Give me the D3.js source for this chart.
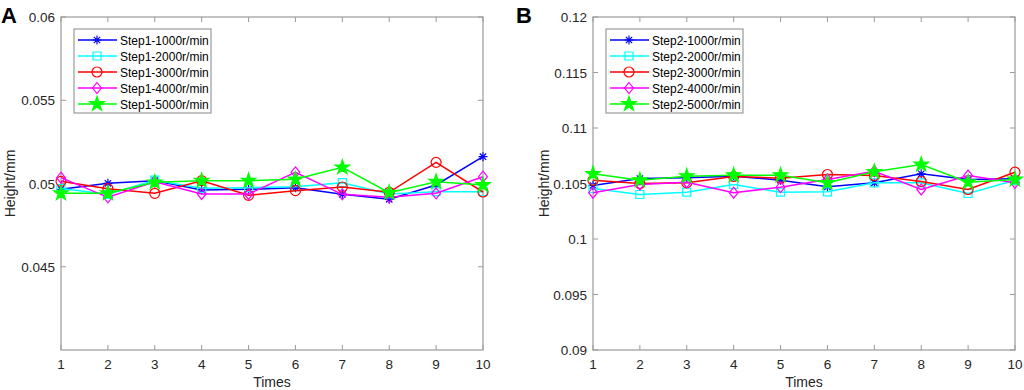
<!DOCTYPE html>
<html>
<head>
<meta charset="utf-8">
<script src="https://cdn.jsdelivr.net/npm/d3@7"></script>
<style>
  body { margin: 0; background: #fff; }
  text { font-family: "Liberation Sans", Arial, sans-serif; }
</style>
</head>
<body>
<div id="chart"></div>
<script>
// data
const times = [1, 2, 3, 4, 5, 6, 7, 8, 9, 10];
const speeds = ["1000r/min", "2000r/min", "3000r/min", "4000r/min", "5000r/min"];

const step1_1000 = [0.04965, 0.05001, 0.05017, 0.04961, 0.04965, 0.04975, 0.04935, 0.04905, 0.04991, 0.05161];
const step1_2000 = [0.04970, 0.04935, 0.05020, 0.04971, 0.04975, 0.04981, 0.05005, 0.04937, 0.04951, 0.04951];
const step1_3000 = [0.05013, 0.04969, 0.04941, 0.05017, 0.04929, 0.04957, 0.04979, 0.04947, 0.05127, 0.04949];
const step1_4000 = [0.05035, 0.04917, 0.05011, 0.04937, 0.04937, 0.05067, 0.04935, 0.04917, 0.04941, 0.05041];
const step1_5000 = [0.04941, 0.04941, 0.05007, 0.05017, 0.05017, 0.05025, 0.05097, 0.04945, 0.05011, 0.04991];

const step2_1000 = [0.10482, 0.10545, 0.10551, 0.10566, 0.10530, 0.10470, 0.10506, 0.10587, 0.10536, 0.10542];
const step2_2000 = [0.10455, 0.10401, 0.10422, 0.10491, 0.10422, 0.10425, 0.10506, 0.10506, 0.10410, 0.10530];
const step2_3000 = [0.10530, 0.10500, 0.10506, 0.10563, 0.10548, 0.10581, 0.10572, 0.10518, 0.10446, 0.10602];
const step2_4000 = [0.10417, 0.10491, 0.10512, 0.10417, 0.10467, 0.10536, 0.10611, 0.10446, 0.10572, 0.10506];
const step2_5000 = [0.10587, 0.10530, 0.10566, 0.10575, 0.10575, 0.10506, 0.10605, 0.10671, 0.10512, 0.10536];

const yTicksA = [0.045, 0.05, 0.055, 0.06];
const yTicksB = [0.09, 0.095, 0.1, 0.105, 0.11, 0.115, 0.12];

const colors = ["#0000ff", "#00ffff", "#ff0000", "#ff00ff", "#00ff00"];

// marker shapes (MATLAB-like)
const asterisk = { draw(ctx, size) {
  const r = Math.sqrt(size) / 2;
  const d = r * Math.SQRT1_2;
  ctx.moveTo(-r, 0); ctx.lineTo(r, 0);
  ctx.moveTo(0, -r); ctx.lineTo(0, r);
  ctx.moveTo(-d, -d); ctx.lineTo(d, d);
  ctx.moveTo(-d, d); ctx.lineTo(d, -d);
}};
const square = { draw(ctx, size) {
  const r = Math.sqrt(size) / 2;
  ctx.rect(-r, -r, 2 * r, 2 * r);
}};
const circle = { draw(ctx, size) {
  const r = Math.sqrt(size) / 2;
  ctx.moveTo(r, 0);
  ctx.arc(0, 0, r, 0, 2 * Math.PI);
}};
const diamond = { draw(ctx, size) {
  const r = Math.sqrt(size) / 2;
  const w = r * 0.8;
  ctx.moveTo(0, -r); ctx.lineTo(w, 0); ctx.lineTo(0, r); ctx.lineTo(-w, 0); ctx.closePath();
}};
const markers = [
  { type: asterisk, size: 81, fill: "none" },
  { type: square, size: 64, fill: "none" },
  { type: circle, size: 100, fill: "none" },
  { type: diamond, size: 121, fill: "none" },
  { type: d3.symbolStar, size: 65, fill: "currentColor" }
];

const width = 1024, height = 390;
const plotTop = 17, plotBottom = 350;

const svg = d3.select("#chart").append("svg")
  .attr("width", width)
  .attr("height", height);

function panel(opts) {
  const { left, right, domain, ticks, series, prefix, letter, letterX, labelX } = opts;
  const g = svg.append("g");

  const x = d3.scaleLinear().domain([1, 10]).range([left, right]);
  const y = d3.scaleLinear().domain(domain).range([plotBottom, plotTop]);

  // box
  g.append("rect")
    .attr("x", left).attr("y", plotTop)
    .attr("width", right - left).attr("height", plotBottom - plotTop)
    .attr("fill", "none").attr("stroke", "#9a9a9a").attr("stroke-width", 1.2);

  // x ticks (inward, bottom and top)
  g.selectAll(".xt").data(times).enter().append("path")
    .attr("d", d => `M${x(d)},${plotBottom}v-5M${x(d)},${plotTop}v5`)
    .attr("stroke", "#9a9a9a");
  g.selectAll(".xl").data(times).enter().append("text")
    .attr("x", d => x(d)).attr("y", plotBottom + 19)
    .attr("text-anchor", "middle").attr("font-size", 13.5).attr("fill", "#262626")
    .text(d => d);

  // y ticks (inward, left and right)
  g.selectAll(".yt").data(ticks).enter().append("path")
    .attr("d", d => `M${left},${y(d)}h5M${right},${y(d)}h-5`)
    .attr("stroke", "#9a9a9a");
  g.selectAll(".yl").data(ticks).enter().append("text")
    .attr("x", left - 6).attr("y", d => y(d) + 5)
    .attr("text-anchor", "end").attr("font-size", 13.5).attr("fill", "#262626")
    .text(d => String(+d.toFixed(3)));

  g.append("text")
    .attr("x", (left + right) / 2).attr("y", 387)
    .attr("text-anchor", "middle").attr("font-size", 14).attr("fill", "#262626")
    .text("Times");
  g.append("text")
    .attr("transform", `translate(${labelX},${(plotTop + plotBottom) / 2}) rotate(-90)`)
    .attr("text-anchor", "middle").attr("font-size", 14).attr("fill", "#262626")
    .text("Height/mm");

  g.append("text")
    .attr("x", letterX).attr("y", 23)
    .attr("font-size", 22).attr("font-weight", "bold").attr("fill", "#000")
    .text(letter);

  const line = d3.line().x((d, i) => x(times[i])).y(d => y(d));

  series.forEach((vals, k) => {
    const s = g.append("g").style("color", colors[k]);
    s.append("path")
      .attr("d", line(vals))
      .attr("fill", "none").attr("stroke", colors[k]).attr("stroke-width", 1.5);
    s.selectAll("path.m").data(vals).enter().append("path")
      .attr("class", "m")
      .attr("transform", (d, i) => `translate(${x(times[i])},${y(d)})`)
      .attr("d", d3.symbol().type(markers[k].type).size(markers[k].size))
      .attr("fill", markers[k].fill).attr("stroke", colors[k]).attr("stroke-width", 1.2);
  });

  // legend
  const lx = left + 13, ly = 29;
  const lg = g.append("g");
  lg.append("rect")
    .attr("x", lx).attr("y", ly).attr("width", 137).attr("height", 84)
    .attr("fill", "#fff").attr("stroke", "#9a9a9a").attr("stroke-width", 1.2);
  speeds.forEach((sp, k) => {
    const yy = ly + 11 + k * 16;
    const it = lg.append("g").style("color", colors[k]);
    it.append("line")
      .attr("x1", lx + 4).attr("x2", lx + 43).attr("y1", yy).attr("y2", yy)
      .attr("stroke", colors[k]).attr("stroke-width", 1.5);
    it.append("path")
      .attr("transform", `translate(${lx + 23},${yy})`)
      .attr("d", d3.symbol().type(markers[k].type).size(markers[k].size))
      .attr("fill", markers[k].fill).attr("stroke", colors[k]).attr("stroke-width", 1.2);
    it.append("text")
      .attr("x", lx + 46).attr("y", yy + 4.5)
      .attr("font-size", 12).attr("fill", "#000")
      .text(prefix + "-" + sp);
  });
}

panel({
  left: 61, right: 483, domain: [0.04, 0.06], ticks: yTicksA,
  series: [step1_1000, step1_2000, step1_3000, step1_4000, step1_5000],
  prefix: "Step1", letter: "A", letterX: 1, labelX: 15
});
panel({
  left: 593, right: 1015, domain: [0.09, 0.12], ticks: yTicksB,
  series: [step2_1000, step2_2000, step2_3000, step2_4000, step2_5000],
  prefix: "Step2", letter: "B", letterX: 516, labelX: 549
});
</script>
</body>
</html>
